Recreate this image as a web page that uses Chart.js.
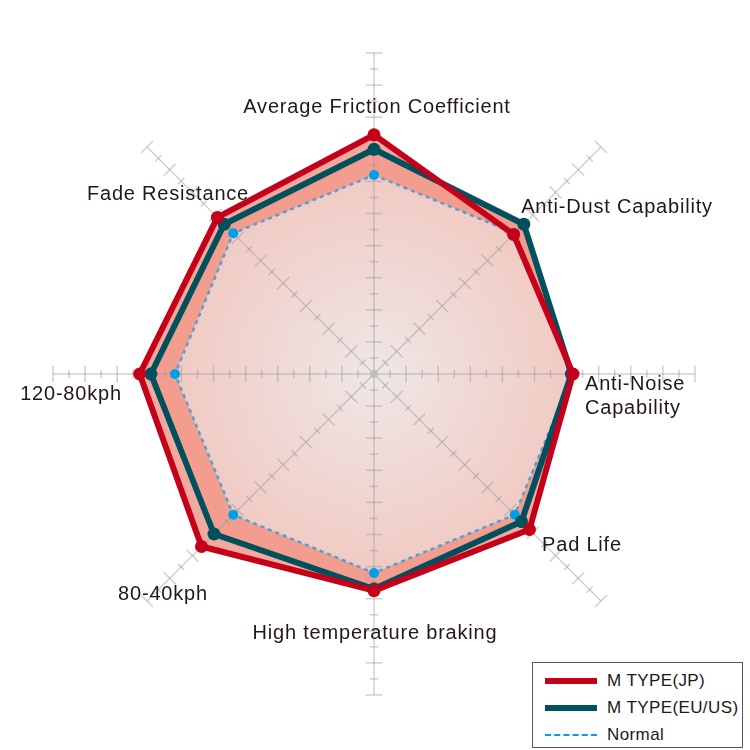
<!DOCTYPE html>
<html lang="en">

<head>
  <meta charset="UTF-8">
  <title>Brake pad radar</title>
  <script src="https://cdn.jsdelivr.net/npm/chart.js"></script>
  <style>
    body {
      margin: 0;
      padding: 0;
      background: #fff;
    }

    .wrap {
      position: relative;
      width: 750px;
      height: 750px;
    }

    #legend {
      position: absolute;
      left: 532px;
      top: 662px;
      width: 211px;
      height: 86px;
      border: 1px solid #595757;
      padding: 4px 0 0 12px;
      box-sizing: border-box;
      background: #fff;
      font-family: "Liberation Sans", Arial, sans-serif;
      font-size: 17px;
      letter-spacing: 0.4px;
      color: #231815;
    }

    #legend .row {
      display: flex;
      align-items: center;
      height: 27px;
    }

    #legend .swatch {
      display: inline-block;
      width: 52px;
      margin-right: 10px;
    }

    .jp { border-top: 6px solid #c4001a; }
    .eu { border-top: 6px solid #00505e; }
    .nm { border-top: 2px dashed #00a0e9; }
  </style>
</head>

<body>
  <div class="wrap">
    <canvas id="radar" width="750" height="750"></canvas>
    <div id="legend">
      <div class="row"><span class="swatch jp"></span>M TYPE(JP)</div>
      <div class="row"><span class="swatch eu"></span>M TYPE(EU/US)</div>
      <div class="row"><span class="swatch nm"></span>Normal</div>
    </div>
  </div>
  <script>
    // axes, clockwise from the top
    const categories = [
      'Average Friction Coefficient',
      'Anti-Dust Capability',
      'Anti-Noise Capability',
      'Pad Life',
      'High temperature braking',
      '80-40kph',
      '120-80kph',
      'Fade Resistance'
    ];

    // scale 0-20 (one tick = 1)
    const jpValues = [14.9, 12.3, 12.4, 13.7, 13.5, 15.2, 14.6, 13.8];
    const euValues = [14.0, 13.2, 12.3, 13.0, 13.4, 14.1, 13.9, 13.2];
    const normalValues = [12.4, 12.4, 12.4, 12.4, 12.4, 12.4, 12.4, 12.4];

    const scaleMin = 0;
    const scaleMax = 20;
    const tickStep = 1;

    // where the axis names sit, relative to the centre (dx, baseline dy, align)
    const labelPlaces = [
      [3, -261, 'center'],
      [243, -161, 'center'],
      [211, 16, 'left'],
      [208, 177, 'center'],
      [1, 265, 'center'],
      [-211, 226, 'center'],
      [-303, 26, 'center'],
      [-206, -174, 'center']
    ];

    // gradient used inside the "Normal" polygon
    function normalFill(context) {
      const chart = context.chart;
      const s = chart.scales.r;
      if (!s || !s.drawingArea) return '#f0d6d1';
      const g = chart.ctx.createRadialGradient(s.xCenter, s.yCenter, 0, s.xCenter, s.yCenter, s.drawingArea * 0.62);
      g.addColorStop(0, '#efe7e7');
      g.addColorStop(1, '#f1cac3');
      return g;
    }

    // axis lines with cross ticks, drawn over the fills but under the lines
    const axisTicks = {
      id: 'axisTicks',
      beforeDatasetsDraw(chart) {
        const s = chart.scales.r;
        const ctx = chart.ctx;
        const n = chart.data.labels.length;
        ctx.save();
        ctx.strokeStyle = 'rgba(150,150,150,0.45)';
        ctx.lineWidth = 1.5;
        for (let i = 0; i < n; i++) {
          const end = s.getPointPosition(i, s.getDistanceFromCenterForValue(scaleMax));
          ctx.beginPath();
          ctx.moveTo(s.xCenter, s.yCenter);
          ctx.lineTo(end.x, end.y);
          ctx.stroke();

          const ang = Math.atan2(end.y - s.yCenter, end.x - s.xCenter);
          const px = -Math.sin(ang);
          const py = Math.cos(ang);
          for (let v = scaleMin + tickStep; v <= scaleMax; v += tickStep) {
            const p = s.getPointPosition(i, s.getDistanceFromCenterForValue(v));
            const half = (v % 2 === 0) ? 8.5 : 4.3;
            ctx.beginPath();
            ctx.moveTo(p.x - px * half, p.y - py * half);
            ctx.lineTo(p.x + px * half, p.y + py * half);
            ctx.stroke();
          }
        }
        ctx.fillStyle = '#bdbdbd';
        ctx.beginPath();
        ctx.arc(s.xCenter, s.yCenter, 4, 0, Math.PI * 2);
        ctx.fill();
        ctx.restore();
      },
      afterDatasetsDraw(chart) {
        const s = chart.scales.r;
        const ctx = chart.ctx;
        ctx.save();
        ctx.font = '20px "Liberation Sans", Arial, sans-serif';
        ctx.letterSpacing = '0.8px';
        ctx.fillStyle = '#231815';
        ctx.textBaseline = 'alphabetic';
        chart.data.labels.forEach((lab, i) => {
          const pl = labelPlaces[i];
          const c = s.getPointPosition(i, 0);
          ctx.textAlign = pl[2];
          if (lab === 'Anti-Noise Capability') {
            ctx.fillText('Anti-Noise', c.x + pl[0], c.y + pl[1]);
            ctx.fillText('Capability', c.x + pl[0], c.y + pl[1] + 24);
          } else {
            ctx.fillText(lab, c.x + pl[0], c.y + pl[1]);
          }
        });
        ctx.restore();
      }
    };

    const radarObj = {
      type: 'radar',
      data: {
        labels: categories,
        datasets: [
          {
            label: 'M TYPE(JP)',
            data: jpValues,
            borderColor: '#c4001a',
            borderWidth: 6,
            borderJoinStyle: 'round',
            pointRadius: 6.5,
            pointBorderWidth: 0,
            pointBackgroundColor: '#c4001a',
            fill: false,
          },
          {
            label: 'M TYPE(EU/US)',
            data: euValues,
            borderColor: '#00505e',
            borderWidth: 6,
            borderJoinStyle: 'round',
            pointRadius: 6.5,
            pointBorderWidth: 0,
            pointBackgroundColor: '#00505e',
            fill: false,
          },
          {
            label: 'Normal',
            data: normalValues,
            borderColor: '#4aa3d8',
            borderWidth: 2.5,
            borderDash: [4, 4],
            pointRadius: 5,
            pointBorderWidth: 0,
            pointBackgroundColor: '#00a0e9',
            fill: false,
          },
          // fill-only copies, drawn first
          {
            label: 'normal fill',
            data: normalValues,
            borderWidth: 0,
            pointRadius: 0,
            backgroundColor: normalFill,
            fill: true,
          },
          {
            label: 'eu fill',
            data: euValues,
            borderWidth: 0,
            pointRadius: 0,
            backgroundColor: '#f39d8f',
            fill: true,
          },
          {
            label: 'jp fill',
            data: jpValues,
            borderWidth: 0,
            pointRadius: 0,
            backgroundColor: '#f4a99e',
            fill: true,
          },
        ]
      },
      options: {
        responsive: false,
        animation: false,
        layout: {
          padding: { left: 53, right: 55, top: 53, bottom: 55 }
        },
        plugins: {
          legend: { display: false },
          tooltip: { enabled: false },
          filler: { drawTime: 'beforeDatasetsDraw' }
        },
        scales: {
          r: {
            min: scaleMin,
            max: scaleMax,
            ticks: { display: false, stepSize: tickStep },
            grid: { display: false },
            angleLines: { display: false },
            pointLabels: { display: false }
          }
        }
      },
      plugins: [axisTicks]
    };

    new Chart(document.getElementById('radar'), radarObj);
  </script>
</body>

</html>
